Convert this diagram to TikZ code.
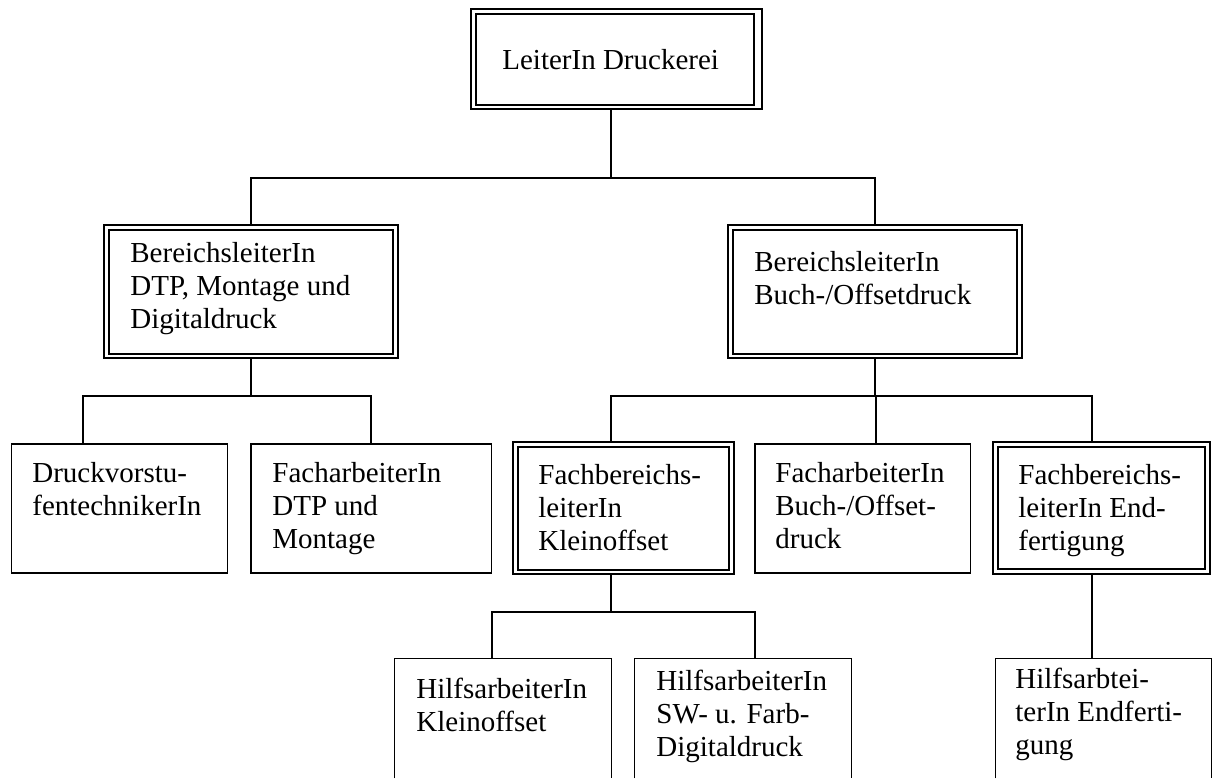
\documentclass[tikz,border=0pt]{standalone}
\usepackage{fontspec}
\setmainfont{Liberation Serif}
\usetikzlibrary{fit}
\begin{document}
\begin{tikzpicture}[x=0.5pt,y=-0.5pt,
  txt/.style={anchor=north west,inner sep=0pt,align=left,font=\fontsize{14.5pt}{16.6pt}\selectfont,yshift=11.62pt},
  sbox/.style={draw,line width=0.65pt,inner sep=0pt},
  dbox/.style={draw,line width=1pt,inner sep=0pt},
  obox/.style={inner sep=0pt},
  conn/.style={line width=0.65pt}]
\useasboundingbox (0,0) rectangle (1212,778);
% top box
\node[dbox,fit={(470.5,9) (761.5,109)}] (T) {};
\node[dbox,fit={(475.5,14) (753.5,105)}] (Ti) {};
\node[txt] (tT) at (502,69) {\strut LeiterIn Druckerei};
% second level
\node[dbox,fit={(104,225) (398,358)}] (A) {};
\node[dbox,fit={(109,230) (393,354)}] (Ai) {};
\node[txt] (tA) at (130,262) {\strut BereichsleiterIn\\DTP, Montage und\\Digitaldruck};
\node[dbox,fit={(728,225) (1022,358)}] (B) {};
\node[dbox,fit={(733,230) (1017,354)}] (Bi) {};
\node[txt] (tB) at (754,271) {\strut BereichsleiterIn\\Buch-/Offsetdruck};
% third level
\node[sbox,fit={(11.5,444) (227.5,573)}] (d1) {};
\node[txt] (td1) at (32,482) {\strut Druckvorstu-\\fentechnikerIn};
\node[sbox,fit={(251,444) (491.5,573)}] (d2) {};
\node[txt] (td2) at (272,482) {\strut FacharbeiterIn\\DTP und\\Montage};
\node[dbox,fit={(512.5,442) (734,574)}] (K) {};
\node[dbox,fit={(518,447) (728.5,569.5)}] (Ki) {};
\node[txt] (tK) at (538,484) {\strut Fachbereichs-\\leiterIn\\Kleinoffset};
\node[sbox,fit={(755,444) (970.5,573)}] (F) {};
\node[txt] (tF) at (775,482) {\strut FacharbeiterIn\\Buch-/Offset-\\druck};
\node[dbox,fit={(993,442) (1210,574)}] (E) {};
\node[dbox,fit={(998,447) (1205,569)}] (Ei) {};
\node[txt] (tE) at (1018,484) {\strut Fachbereichs-\\leiterIn End-\\fertigung};
% fourth level (open at bottom)
\node[obox,fit={(395,659) (611,778)}] (h1) {};
\draw[conn] (h1.south west) |- (h1.north east) -- (h1.south east);
\node[txt] (th1) at (416,698) {\strut HilfsarbeiterIn\\Kleinoffset};
\node[obox,fit={(635,659) (851,778)}] (h2) {};
\draw[conn] (h2.south west) |- (h2.north east) -- (h2.south east);
\node[txt] (th2) at (656,690) {\strut HilfsarbeiterIn\\SW- u. Farb-\\Digitaldruck};
\node[obox,fit={(996,659) (1211,778)}] (h3) {};
\draw[conn] (h3.south west) |- (h3.north east) -- (h3.south east);
\node[txt] (th3) at (1015,688) {\strut Hilfsarbtei-\\terIn Endferti-\\gung};
% connectors
\coordinate (j0) at (611,178);
\draw[conn] (T.south -| j0) -- (j0);
\draw[conn] (A.north) |- (j0) -| (B.north);
\coordinate (c11) at (83,396);
\coordinate (c12) at (371,396);
\draw[conn] (A.south) -- (A.south |- c11);
\draw[conn] (d1.north -| c11) -- (c11) -- (c12) -- (c12 |- d2.north);
\coordinate (c21) at (611,396);
\coordinate (c22) at (876,396);
\coordinate (c23) at (1092,396);
\draw[conn] (B.south) -- (B.south |- c21);
\draw[conn] (K.north -| c21) -- (c21) -- (c23) -- (c23 |- E.north);
\draw[conn] (c22) -- (c22 |- F.north);
\coordinate (c31) at (611,612);
\coordinate (c32) at (492,612);
\coordinate (c33) at (755,612);
\draw[conn] (K.south -| c31) -- (c31);
\draw[conn] (h1.north -| c32) -- (c32) -- (c33) -- (c33 |- h2.north);
\draw[conn] (E.south -| c23) -- (h3.north -| c23);
\end{tikzpicture}
\end{document}
